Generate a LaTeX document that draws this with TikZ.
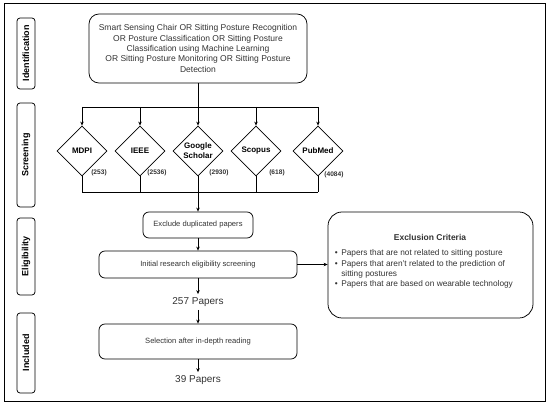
\documentclass[tikz,border=0pt]{standalone}
\usepackage{fontspec}
\setmainfont{Liberation Sans}
\usetikzlibrary{shapes.geometric,arrows.meta}
\begin{document}
\begin{tikzpicture}[x=1pt,y=-1pt,line width=0.75pt,
  lbl/.style={text=black!80},
  rbox/.style={draw,rounded corners=6pt,inner sep=0pt,align=center,text=black!80},
  side/.style={draw,rounded corners=3pt,rotate=90,minimum height=18pt,inner sep=0pt,font=\fontsize{9}{10}\selectfont\bfseries},
  db/.style={draw,diamond,minimum width=50pt,minimum height=50pt,inner sep=0pt,align=center,font=\fontsize{8}{9.8}\selectfont\bfseries},
  cnt/.style={font=\fontsize{6.6}{7.5}\selectfont\bfseries,text=black!80},
  arr/.style={-{Stealth[length=4pt,width=3.5pt]}}
]
\useasboundingbox (0,0) rectangle (550,406);
\draw[line width=1pt] (4,4) rectangle (545,402);

% side labels
\node[side,minimum width=71pt] (sid) at (26,53.5) {Identification};
\node[side,minimum width=104pt] (sscr) at (26,155) {Screening};
\node[side,minimum width=77pt] (self) at (26,256.5) {Eligibility};
\node[side,minimum width=80pt] (sinc) at (26,353) {Included};

% top box
\node[rbox,rounded corners=10pt,minimum width=218pt,minimum height=69pt,font=\fontsize{8.5}{10.4}\selectfont] (top) at (198,48.5)
 {Smart Sensing Chair OR Sitting Posture Recognition\\OR Posture Classification OR Sitting Posture\\Classification using Machine Learning\\OR Sitting Posture Monitoring OR Sitting Posture\\Detection};

% diamonds
\node[db] (mdpi) at (82,151) {MDPI};
\node[db] (ieee) at (140,151) {IEEE};
\node[db] (gs) at (198,151) {Google\\Scholar};
\node[db] (scop) at (256,151) {Scopus};
\node[db] (pub) at (318,151) {PubMed};

\node[cnt] (c1) at (99,173) {(253)};
\node[cnt] (c2) at (157,173) {(2536)};
\node[cnt] (c3) at (219,173) {(2930)};
\node[cnt] (c4) at (277,173) {(618)};
\node[cnt] (c5) at (334,174.5) {(4084)};

\coordinate (j1) at (198,107);
\coordinate (j2) at (198,192);

\draw (top.south) -- (j1);
\draw (mdpi.north |- j1) -- (pub.north |- j1);
\foreach \n in {mdpi,ieee,gs,scop,pub}{
  \draw[arr] (\n.north |- j1) -- (\n.north);
  \draw (\n.south) -- (\n.south |- j2);
}
\draw (mdpi.south |- j2) -- (pub.south |- j2);

% lower flow
\node[rbox,minimum width=110pt,minimum height=26pt,font=\fontsize{7.6}{9}\selectfont] (excl) at (198,225) {Exclude duplicated papers};
\node[rbox,minimum width=198pt,minimum height=27pt,font=\fontsize{7.6}{9}\selectfont] (init) at (198,264.5) {Initial research eligibility screening};
\node[lbl,font=\fontsize{10}{12}\selectfont,inner sep=3pt] (p257) at (198,302) {257 Papers};
\node[rbox,minimum width=198pt,minimum height=35pt,font=\fontsize{7.6}{9}\selectfont] (sel) at (198,341.5) {Selection after in-depth reading};
\node[lbl,font=\fontsize{10}{12}\selectfont,inner sep=3pt] (p39) at (198,380) {39 Papers};

\draw[arr] (j2) -- (excl.north);
\draw[arr] (excl.south) -- (init.north);
\draw[arr] (init.south) -- (p257.north);
\draw[arr] (p257.south) -- (sel.north);
\draw[arr] (sel.south) -- (p39.north);

% exclusion criteria
\node[draw,rounded corners=14pt,minimum width=205pt,minimum height=106pt,inner sep=0pt] (crit) at (430.5,265) {};
\node[lbl,font=\fontsize{8.5}{10}\selectfont\bfseries] (ctitle) at (430,237) {Exclusion Criteria};
\node[lbl,anchor=north west,inner sep=0pt,font=\fontsize{8.3}{10.4}\selectfont,align=left] (clist) at (334.5,248)
 {\begin{tabular}{@{}l@{\hspace{3.5pt}}l@{}}
  • & Papers that are not related to sitting posture\\
  • & Papers that aren't related to the prediction of\\
    & sitting postures\\
  • & Papers that are based on wearable technology
  \end{tabular}};
\draw[arr] (init.east) -- (crit.west |- init.east);
\end{tikzpicture}
\end{document}
